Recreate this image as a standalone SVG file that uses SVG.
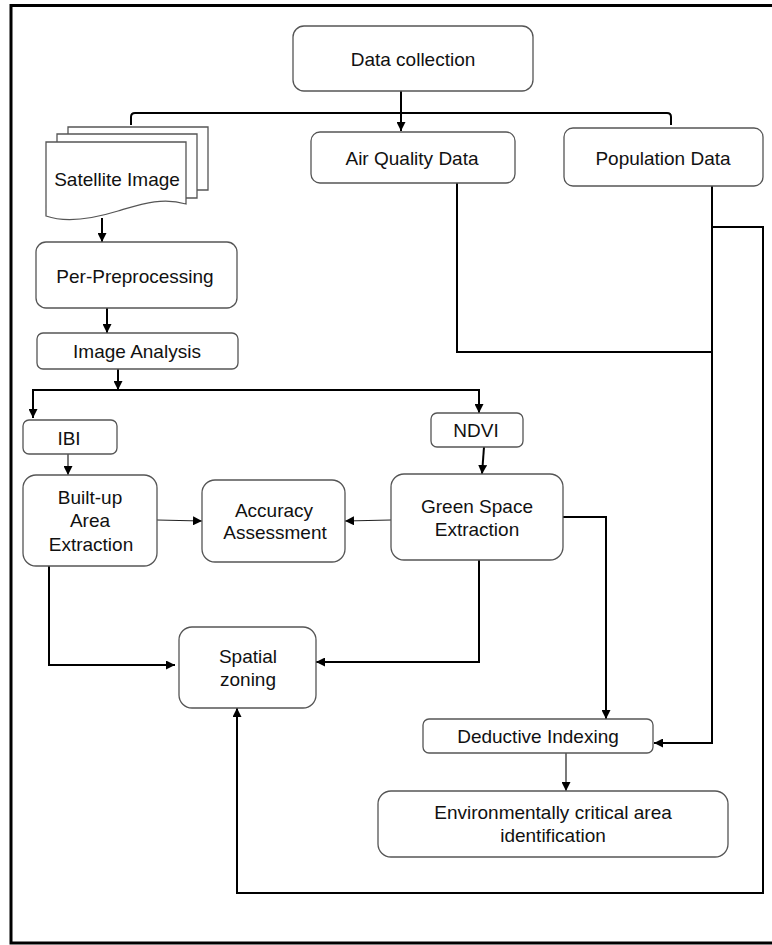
<svg xmlns="http://www.w3.org/2000/svg" width="772" height="945" viewBox="0 0 772 945">
<defs>
<style>
.box{fill:#fff;stroke:#555;stroke-width:1.3}
.t{font-family:"Liberation Sans",Arial,sans-serif;font-size:19px;fill:#111;text-anchor:middle}
.c{fill:none;stroke:#000;stroke-width:2}
.c1{fill:none;stroke:#222;stroke-width:1.2}
</style>
<marker id="ah" viewBox="0 0 10 10" refX="10" refY="5" markerWidth="9" markerHeight="9" markerUnits="userSpaceOnUse" orient="auto">
<path d="M0,0 L10,5 L0,10 Z" fill="#000"/>
</marker>
</defs>
<rect width="772" height="945" fill="#fff"/>
<path d="M780,5.5 H11 V943 H780" fill="none" stroke="#000" stroke-width="3"/>

<g id="connectors">
<path class="c" d="M401,91 V131" marker-end="url(#ah)"/>
<path class="c" d="M131,125 V117 Q131,113 135,113 H667 Q671,113 671,117 V125"/>
<path class="c" d="M102,218 V242" marker-end="url(#ah)"/>
<path class="c" d="M107,308 V333" marker-end="url(#ah)"/>
<path class="c" d="M118,369 V390" marker-end="url(#ah)"/>
<path class="c" d="M118,390 H33 V418" marker-end="url(#ah)"/>
<path class="c" d="M118,390 H479 V413" marker-end="url(#ah)"/>
<path class="c1" d="M68,454 V475" marker-end="url(#ah)"/>
<path class="c" d="M484,447 L482,474" marker-end="url(#ah)"/>
<path class="c1" d="M157,520 L202,521" marker-end="url(#ah)"/>
<path class="c1" d="M391,520 L345,521" marker-end="url(#ah)"/>
<path class="c" d="M49,566 V665 H175" marker-end="url(#ah)"/>
<path class="c" d="M479,560 V662 H316" marker-end="url(#ah)"/>
<path class="c" d="M563,517 H606 V719" marker-end="url(#ah)"/>
<path class="c" d="M457,183 V352 H712"/>
<path class="c" d="M712,186 V743 H654" marker-end="url(#ah)"/>
<path class="c" d="M712,227 H763 V893 H237 V708" marker-end="url(#ah)"/>
<path class="c1" d="M566,753 V791" marker-end="url(#ah)"/>
</g>

<g id="data-collection">
<rect class="box" x="293" y="26" width="240" height="65" rx="11"/>
<text class="t" x="413" y="66">Data collection</text>
</g>
<g id="air-quality">
<rect class="box" x="311" y="132" width="204" height="51" rx="9"/>
<text class="t" x="412" y="165">Air Quality Data</text>
</g>
<g id="population">
<rect class="box" x="564" y="128" width="199" height="58" rx="9"/>
<text class="t" x="663" y="165">Population Data</text>
</g>
<g id="satellite">
<path class="box" d="M68,134 V127 H208 V190 H197"/>
<path class="box" d="M57,142 V134 H197 V198 H186"/>
<path class="box" d="M46,142 H186 V204 C162,197 142,204 118,211 C92,219 66,223 46,216 Z"/>
<text class="t" x="117" y="186">Satellite Image</text>
</g>
<g id="preprocessing">
<rect class="box" x="36" y="242" width="201" height="66" rx="10"/>
<text class="t" x="135" y="283">Per-Preprocessing</text>
</g>
<g id="image-analysis">
<rect class="box" x="37" y="333" width="201" height="36" rx="6"/>
<text class="t" x="137" y="358">Image Analysis</text>
</g>
<g id="ibi">
<rect class="box" x="23" y="420" width="94" height="34" rx="6"/>
<text class="t" x="69" y="445">IBI</text>
</g>
<g id="ndvi">
<rect class="box" x="431" y="413" width="92" height="34" rx="6"/>
<text class="t" x="476" y="437">NDVI</text>
</g>
<g id="built-up">
<rect class="box" x="23" y="475" width="134" height="91" rx="13"/>
<text class="t" x="90" y="504">Built-up</text>
<text class="t" x="90" y="527">Area</text>
<text class="t" x="91" y="551">Extraction</text>
</g>
<g id="accuracy">
<rect class="box" x="202" y="480" width="143" height="82" rx="13"/>
<text class="t" x="274" y="517">Accuracy</text>
<text class="t" x="275" y="539">Assessment</text>
</g>
<g id="green-space">
<rect class="box" x="391" y="474" width="172" height="86" rx="13"/>
<text class="t" x="477" y="513">Green Space</text>
<text class="t" x="477" y="536">Extraction</text>
</g>
<g id="spatial-zoning">
<rect class="box" x="179" y="627" width="137" height="81" rx="13"/>
<text class="t" x="248" y="663">Spatial</text>
<text class="t" x="248" y="686">zoning</text>
</g>
<g id="deductive">
<rect class="box" x="423" y="719" width="230" height="34" rx="6"/>
<text class="t" x="538" y="743">Deductive Indexing</text>
</g>
<g id="environmental">
<rect class="box" x="378" y="791" width="350" height="66" rx="13"/>
<text class="t" x="553" y="819">Environmentally critical area</text>
<text class="t" x="553" y="842">identification</text>
</g>
</svg>
